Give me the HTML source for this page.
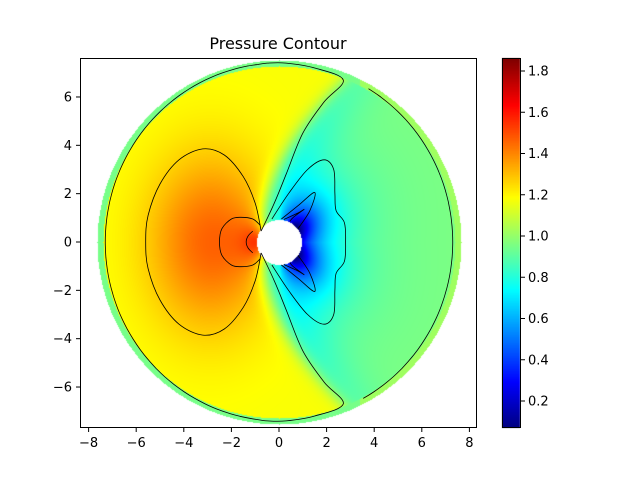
<!DOCTYPE html>
<html><head><meta charset="utf-8"><style>
body{margin:0;background:#fff;}
#wrap{position:relative;width:640px;height:480px;font-family:"DejaVu Sans","Liberation Sans",sans-serif;}
canvas,svg{position:absolute;left:0;top:0;}
</style></head><body>
<div id="wrap">
<canvas id="cv" width="640" height="480"></canvas>
<svg id="sv" width="640" height="480"></svg>
</div>
<script>
const xTicks=[-8,-6,-4,-2,0,2,4,6,8];
const yTicks=[-6,-4,-2,0,2,4,6];
const cbTicks=[0.2,0.4,0.6,0.8,1.0,1.2,1.4,1.6,1.8];
const vMin=0.07, vMax=1.86;
const X=x=>279+x*23.8, Y=y=>242-y*24.17;
const CB=v=>401-(v-0.2)*206.25;
function jet(t){const c=a=>Math.max(0,Math.min(1,a));return [c(1.5-Math.abs(4*t-3)),c(1.5-Math.abs(4*t-2)),c(1.5-Math.abs(4*t-1))].map(a=>Math.round(a*255));}
function field(x,y){
 const rr=Math.hypot(x,y);
 const xb=-0.7+0.075*y*y;
 const s=1/(1+Math.exp((x-xb)/0.25));
 const d=Math.max(0,rr-0.95);
 const lw=Math.pow(Math.max(0,-x/rr),2);
 const left=1.18+0.28*Math.exp(-Math.pow((x+2.9)/2.6,2)-Math.pow(y/3.6,2))+0.5*Math.exp(-d/0.45)*lw;
 const rw=Math.max(0,x/rr);
 const ang=Math.abs(Math.atan2(y,x));
 const wing=Math.exp(-Math.pow((ang-0.8)/0.55,2));
 const band=0.25*Math.exp(-Math.pow((x-xb)/1.8,2))*Math.exp(-Math.pow(y/6,2));
 const right=0.96-band-0.95*Math.exp(-d/1.3)*Math.pow(rw,0.6)*(0.55+0.45*wing);
 return s*left+(1-s)*right;
}
const cv=document.getElementById('cv'),ctx=cv.getContext('2d');
const img=ctx.createImageData(640,480);
for(let py=58;py<428;py++)for(let px=80;px<477;px++){
 const dx=px-279,dy=py-242,rp=Math.hypot(dx,dy);
 let col=[255,255,255];
 if(rp<=182&&rp>=22.5){
  let v=field(dx/23.8,-dy/24.17);
  if(rp>176)v=(dx>80?1.02:0.95);
  v=Math.max(vMin,Math.min(vMax,v));
  col=jet((v-vMin)/(vMax-vMin));
 }
 const i=(py*640+px)*4;img.data[i]=col[0];img.data[i+1]=col[1];img.data[i+2]=col[2];img.data[i+3]=255;
}
for(let py=58;py<428;py++)for(let px=502;px<520;px++){
 const v=0.2+(401-py)/206.25;const col=jet((v-vMin)/(vMax-vMin));
 const i=(py*640+px)*4;img.data[i]=col[0];img.data[i+1]=col[1];img.data[i+2]=col[2];img.data[i+3]=255;
}
ctx.putImageData(img,0,0);
const NS='http://www.w3.org/2000/svg',sv=document.getElementById('sv');
function el(t,a,p){const e=document.createElementNS(NS,t);for(const k in a)e.setAttribute(k,a[k]);(p||sv).appendChild(e);return e;}
function path(pts,name){
 const P=pts.map(p=>[X(p[0]),Y(p[1])]);
 let d='M'+P[0][0].toFixed(1)+','+P[0][1].toFixed(1);
 for(let i=0;i<P.length-1;i++){
  const p0=P[Math.max(0,i-1)],p1=P[i],p2=P[i+1],p3=P[Math.min(P.length-1,i+2)];
  const c1=[p1[0]+(p2[0]-p0[0])/6,p1[1]+(p2[1]-p0[1])/6],c2=[p2[0]-(p3[0]-p1[0])/6,p2[1]-(p3[1]-p1[1])/6];
  d+=' C'+c1.map(v=>v.toFixed(1))+' '+c2.map(v=>v.toFixed(1))+' '+p2.map(v=>v.toFixed(1));
 }
 const e=el('path',{d:d,fill:'none',stroke:'#000','stroke-width':0.8,'stroke-linejoin':'round'});
 
 }
function sym(top){const b=top.slice().reverse().map(p=>[p[0],-p[1]]);return b.concat(top.slice(1));}
const topOuter=[[-0.75,0.45],[-0.2,1.6],[0.3,2.8],[1.0,4.5],[1.9,5.8],[2.7,6.7],[1.5,7.2],[0.3,7.4],[-0.5,7.4]];
let arc=[];for(let a=97;a<=263;a+=4){const t=a*Math.PI/180;arc.push([7.3*Math.cos(t),7.4*Math.sin(t)]);}
const botOuter=topOuter.slice().reverse().map(p=>[p[0],-p[1]]);
path(topOuter.concat(arc,botOuter),'contour-outer');
let rc=[];for(let a=-61;a<=61;a+=4){const t=a*Math.PI/180;rc.push([7.3*Math.cos(t),7.4*Math.sin(t)]);}
path(rc,'contour-right');
path(sym([[-5.6,0],[-5.5,1.1],[-5.0,2.4],[-4.2,3.4],[-3.2,3.85],[-2.3,3.6],[-1.5,2.7],[-1.0,1.6],[-0.75,0.45]]),'contour-1-4');
path(sym([[-2.5,0],[-2.4,0.55],[-2.0,0.95],[-1.6,1.02],[-1.1,0.95],[-0.8,0.7]]),'contour-1-6');
path(sym([[-1.38,0],[-1.3,0.25],[-1.1,0.45]]),'contour-1-8');
path(sym([[2.8,0],[2.75,0.8],[2.4,1.3],[2.35,2.0],[2.3,3.0],[1.9,3.4],[1.2,3.0],[0.4,2.0],[-0.3,0.95]]),'contour-0-8');
path([[0.1,0.95],[0.8,1.5],[1.5,2.05],[1.3,1.3],[0.8,0.55]],'contour-0-6-top');
path([[0.1,-0.95],[0.8,-1.5],[1.5,-2.05],[1.3,-1.3],[0.8,-0.55]],'contour-0-6-bottom');
path([[0.2,0.93],[0.8,1.2],[1.05,1.35],[0.6,1.02],[0.45,0.85]],'contour-0-4-top');
path([[0.2,-0.93],[0.8,-1.2],[1.05,-1.35],[0.6,-1.02],[0.45,-0.85]],'contour-0-4-bottom');
let f=el('rect',{x:80.5,y:58.5,width:396,height:369,fill:'none',stroke:'#000','stroke-width':1});

xTicks.forEach(t=>{const x=X(t);
 const l=el('line',{x1:x,x2:x,y1:427.5,y2:432,stroke:'#000'});
 const tx=el('text',{x:x,y:447,'font-size':13,'text-anchor':'middle'});tx.textContent=(t<0?'\u2212'+(-t):t);});
yTicks.forEach(t=>{const y=Y(t);
 const l=el('line',{x1:76,x2:80.5,y1:y,y2:y,stroke:'#000'});
 const tx=el('text',{x:72,y:y+4.5,'font-size':13,'text-anchor':'end'});tx.textContent=(t<0?'\u2212'+(-t):t);});
const ti=el('text',{x:278,y:49,'font-size':16,'text-anchor':'middle'});ti.textContent='Pressure Contour';

const cb=el('rect',{x:502.5,y:58.5,width:18,height:369,fill:'none',stroke:'#000'});

cbTicks.forEach(t=>{const y=CB(t);
 const l=el('line',{x1:520.5,x2:525,y1:y,y2:y,stroke:'#000'});
 const tx=el('text',{x:528,y:y+4.5,'font-size':13});tx.textContent=t.toFixed(1);});
</script>
</body></html>
